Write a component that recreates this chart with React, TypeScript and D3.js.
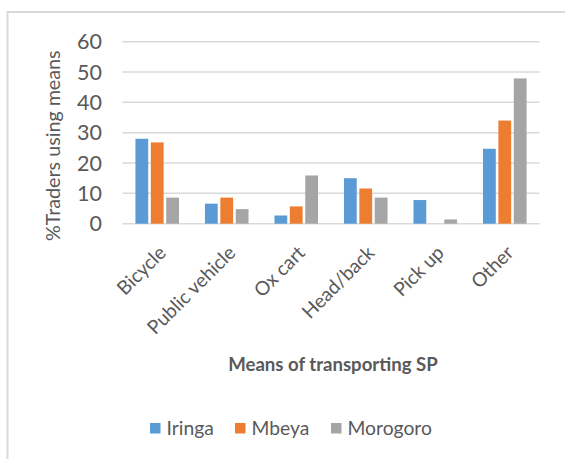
import React from "react";
import * as d3 from "d3";

const categories = ["Bicycle", "Public vehicle", "Ox cart", "Head/back", "Pick up", "Other"];
const seriesNames = ["Iringa", "Mbeya", "Morogoro"];
const iringa = [28, 6.6, 2.7, 15, 7.8, 24.7];
const mbeya = [26.8, 8.6, 5.7, 11.6, 0, 34];
const morogoro = [8.6, 4.8, 15.9, 8.6, 1.4, 47.9];
const colors = ["#5b9bd5", "#ed7d31", "#a5a5a5"];
const yTicks = [0, 10, 20, 30, 40, 50, 60];

const W = 565, H = 459;
const plot = { left: 122.5, right: 539.5, top: 41.7, bottom: 223.7 };
const FONT = "Lato, 'Open Sans', sans-serif";

export default function App() {
  const values = [iringa, mbeya, morogoro];
  const x0 = d3.scaleBand().domain(categories).range([plot.left, plot.right]).paddingInner(0.373).paddingOuter(0.186);
  const x1 = d3.scaleBand().domain(seriesNames).range([0, x0.bandwidth()]).paddingInner(0.17);
  const y = d3.scaleLinear().domain([0, 60]).range([plot.bottom, plot.top]);
  const textColor = "#595959";

  return (
    <svg width={W} height={H} style={{ position: "absolute", left: 0, top: 0, background: "#fff" }} fontFamily={FONT}>
      <rect x={0} y={0} width={W} height={H} fill="#fff" />
      <path d={`M7.5,${H} V12 H${W}`} fill="none" stroke="#d9d9d9" strokeWidth={2} />
      {yTicks.map((t) => (
        <g key={t}>
          <line x1={plot.left} x2={plot.right} y1={y(t)} y2={y(t)} stroke="#d9d9d9" strokeWidth={1.5} />
          <text x={102} y={y(t)} dy="0.36em" textAnchor="end" fontSize={21.5} fill={textColor}>{t}</text>
        </g>
      ))}
      {categories.map((c, i) => (
        <g key={c}>
          {seriesNames.map((s, j) => {
            const v = values[j][i];
            if (v <= 0) return null;
            return (
              <rect key={s} x={(x0(c) as number) + (x1(s) as number)} y={y(v)} width={x1.bandwidth()}
                height={y(0) - y(v)} fill={colors[j]} />
            );
          })}
        </g>
      ))}
      {categories.map((c) => {
        const cx = (x0(c) as number) + x0.bandwidth() / 2;
        return (
          <text key={c} transform={`translate(${cx + 10},${254}) rotate(-45)`} textAnchor="end" fontSize={19.3} fill={textColor}>{c}</text>
        );
      })}
      <text transform={`translate(60,${(plot.top + plot.bottom) / 2 + 13}) rotate(-90)`} textAnchor="middle" fontSize={19.7} fill={textColor}>%Traders using means</text>
      <text x={333} y={371} textAnchor="middle" fontSize={18.6} fontWeight="bold" fill={textColor}>Means of transporting SP</text>
      {seriesNames.map((s, j) => {
        const xs = [150, 235, 331][j];
        return (
          <g key={s}>
            <rect x={xs} y={423} width={10.5} height={10.5} fill={colors[j]} />
            <text x={xs + 16.5} y={428.5} dy="0.36em" fontSize={19.3} fill={textColor}>{s}</text>
          </g>
        );
      })}
    </svg>
  );
}
